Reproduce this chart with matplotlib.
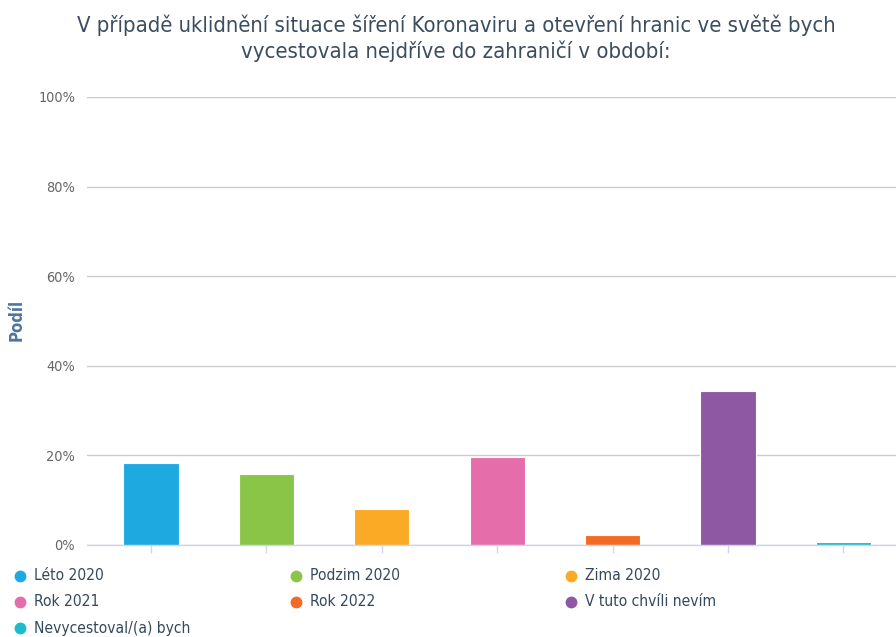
import matplotlib
matplotlib.use("Agg")
import matplotlib.pyplot as plt
from matplotlib.lines import Line2D
from matplotlib.ticker import FuncFormatter

plt.rcParams["font.family"] = ["DejaVu Sans"]
plt.rcParams["font.stretch"] = "condensed"

categories = ["Léto 2020", "Podzim 2020", "Zima 2020", "Rok 2021",
              "Rok 2022", "V tuto chvíli nevím", "Nevycestoval/(a) bych"]
values = [18.3, 15.9, 8.0, 19.5, 2.1, 34.4, 0.6]
colors = ["#1ea9e1", "#8bc548", "#fbaa26", "#e56eaa",
          "#f26a24", "#8f58a2", "#1cbccf"]
yticks = [0, 20, 40, 60, 80, 100]

title = ("V případě uklidnění situace šíření Koronaviru a otevření hranic ve světě bych\n"
         "vycestovala nejdříve do zahraničí v období:")

W, H = 896, 637
fig = plt.figure(figsize=(W / 100, H / 100), dpi=100)
fig.patch.set_facecolor("white")

# plot area in pixel coordinates
left, right, top, bottom = 87, 896, 97, 544.7
ax = fig.add_axes([left / W, 1 - bottom / H, (right - left) / W, (bottom - top) / H])

x = list(range(len(categories)))
ax.bar(x, values, width=0.48, color=colors, edgecolor="white", linewidth=0.8, zorder=3)

step = 115.4
x0 = -0.5 - (151 - 57.7 - left) / step
ax.set_xlim(x0, x0 + (right - left) / step)
ax.set_ylim(0, 100)

ax.set_yticks(yticks)
ax.yaxis.set_major_formatter(FuncFormatter(lambda v, p: f"{v:.0f}%"))
ax.tick_params(axis="y", length=0, pad=8.5, labelsize=10.4, labelcolor="#666666")
ax.grid(axis="y", color="#cccccc", linewidth=1, zorder=0)
ax.set_axisbelow(True)

ax.set_xticks(x)
ax.set_xticklabels([])
ax.tick_params(axis="x", length=6, width=1, color="#ccd6eb", direction="out")

for side in ["top", "right", "left"]:
    ax.spines[side].set_visible(False)
ax.spines["bottom"].set_color("#ccd6eb")
ax.spines["bottom"].set_linewidth(1)
ax.spines["bottom"].set_zorder(4)

fig.text(17 / W, 1 - 320 / H, "Podíl", rotation=90, ha="center", va="center",
         fontsize=12, fontweight="bold", color="#4d759e")

fig.text(456 / W, 1 - 38 / H, title, ha="center", va="center", fontsize=15.85,
         color="#3c4d60", linespacing=1.25)

# legend: three columns, row-major
col_x = [20, 296, 571]
row_y = [576, 602, 628]
for i, (name, c) in enumerate(zip(categories, colors)):
    cx = col_x[i % 3]
    cy = row_y[i // 3]
    fig.add_artist(Line2D([cx / W], [1 - cy / H], marker="o", markersize=7.5,
                          color=c, linestyle="none", transform=fig.transFigure))
    fig.text((cx + 14) / W, 1 - cy / H, name, ha="left", va="center",
             fontsize=11.2, color="#34495e")

fig.savefig("out.png", dpi=100, facecolor="white")
